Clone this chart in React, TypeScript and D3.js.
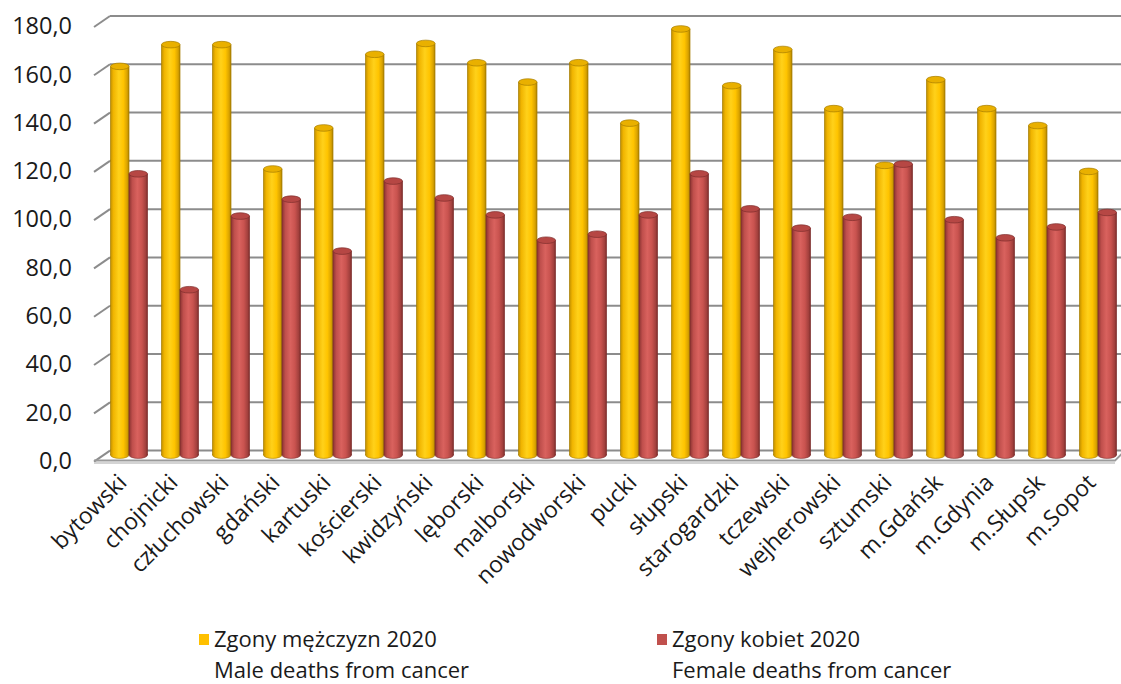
import React from "react";
import * as d3 from "d3";

const categories = [
  "bytowski", "chojnicki", "człuchowski", "gdański", "kartuski", "kościerski",
  "kwidzyński", "lęborski", "malborski", "nowodworski", "pucki", "słupski",
  "starogardzki", "tczewski", "wejherowski", "sztumski", "m.Gdańsk", "m.Gdynia",
  "m.Słupsk", "m.Sopot",
];
const maleDeaths = [161, 170, 170, 118.5, 135.5, 166, 170.5, 162.5, 154.5, 162.5, 137.5, 176.5, 153, 168, 143.5, 120, 155.5, 143.5, 136.5, 117.5];
const femaleDeaths = [116.5, 68.5, 99, 106, 84.5, 113.5, 106.5, 99.5, 89, 91.5, 99.5, 116.5, 102, 94, 98.5, 120.5, 97.5, 90, 94.5, 100.5];
const yTicks = [0, 20, 40, 60, 80, 100, 120, 140, 160, 180];
const legendItems = [
  { pl: "Zgony mężczyzn 2020", en: "Male deaths from cancer", key: "m" },
  { pl: "Zgony kobiet 2020", en: "Female deaths from cancer", key: "f" },
];

const W = 1121;
const H = 684;
const FONT = "'Open Sans', 'Noto Sans', sans-serif";

export default function App() {
  const backLeft = 110;
  const backRight = 1130;
  const y = d3.scaleLinear().domain([0, 180]).range([450.6, 16]);
  const x = d3.scaleBand<string>().domain(categories).range([103.5, 1123.5]);
  const barW = 18.5;
  const groupPad = (x.bandwidth() - 2 * barW) / 2;
  const dz = 4.5; // depth offset of bars relative to back wall
  const tickDx = -16;
  const tickDy = 11;
  const ry = 3.3;

  const cyl = (x0: number, v: number, kind: "m" | "f", key: string) => {
    const top = y(v) + dz;
    const bot = y(0) + dz;
    const cx = x0 + barW / 2;
    const rx = barW / 2;
    const grad = kind === "m" ? "url(#gY)" : "url(#gR)";
    const topFill = kind === "m" ? "#e9b000" : "#b64744";
    const edge = kind === "m" ? "#a67c00" : "#7e2e2c";
    return (
      <g key={key}>
        <ellipse cx={cx} cy={bot} rx={rx} ry={ry} fill={grad} stroke={edge} strokeWidth={0.6} />
        <rect x={x0} y={top} width={barW} height={bot - top} fill={grad} />
        <line x1={x0} x2={x0} y1={top} y2={bot} stroke={edge} strokeWidth={0.7} />
        <line x1={x0 + barW} x2={x0 + barW} y1={top} y2={bot} stroke={edge} strokeWidth={0.7} />
        <ellipse cx={cx} cy={top} rx={rx} ry={ry} fill={topFill} stroke={edge} strokeWidth={0.7} />
      </g>
    );
  };

  return (
    <svg
      width={W}
      height={H}
      style={{ position: "absolute", left: 0, top: 0, background: "#fff" }}
      fontFamily={FONT}
    >
      <defs>
        <linearGradient id="gY" x1="0" x2="1" y1="0" y2="0">
          <stop offset="0" stopColor="#c08f00" />
          <stop offset="0.15" stopColor="#f0b400" />
          <stop offset="0.45" stopColor="#ffd11a" />
          <stop offset="0.7" stopColor="#ffc400" />
          <stop offset="0.9" stopColor="#d9a200" />
          <stop offset="1" stopColor="#a88000" />
        </linearGradient>
        <linearGradient id="gR" x1="0" x2="1" y1="0" y2="0">
          <stop offset="0" stopColor="#8a3331" />
          <stop offset="0.18" stopColor="#bf4f4c" />
          <stop offset="0.45" stopColor="#d9625e" />
          <stop offset="0.7" stopColor="#c9534f" />
          <stop offset="0.9" stopColor="#a2403d" />
          <stop offset="1" stopColor="#7a2c2a" />
        </linearGradient>
      </defs>

      {/* back wall gridlines and left-wall ticks */}
      {yTicks.map((t) => (
        <g key={"g" + t}>
          <line x1={backLeft} x2={backRight} y1={y(t)} y2={y(t)} stroke="#8c8c8c" strokeWidth={2} />
          <line x1={backLeft} x2={backLeft + tickDx} y1={y(t)} y2={y(t) + tickDy} stroke="#8c8c8c" strokeWidth={2} />
          <text
            x={72}
            y={y(t) + tickDy + 1}
            textAnchor="end"
            dominantBaseline="middle"
            fontSize={23.5}
            fill="#1a1a1a"
          >
            {d3.format(".1f")(t).replace(".", ",")}
          </text>
        </g>
      ))}

      {/* floor front edge */}
      <polyline
        points={`${backLeft + tickDx},${y(0) + tickDy - 1} ${1115},${y(0) + tickDy - 1} ${1123},${y(0) + 2}`}
        fill="none"
        stroke="#9a9a9a"
        strokeWidth={2}
      />
      <line x1={backLeft + tickDx} x2={1115} y1={y(0) + tickDy + 1.5} y2={y(0) + tickDy + 1.5} stroke="#d4d4d4" strokeWidth={2} />

      {/* bars */}
      {categories.map((c, i) => {
        const x0 = (x(c) as number) + groupPad;
        return (
          <g key={c}>
            {cyl(x0, maleDeaths[i], "m", c + "m")}
            {cyl(x0 + barW, femaleDeaths[i], "f", c + "f")}
          </g>
        );
      })}

      {/* category labels */}
      {categories.map((c) => {
        const cx = (x(c) as number) + x.bandwidth() / 2;
        return (
          <text
            key={"l" + c}
            transform={`translate(${cx - 1},${484}) rotate(-45)`}
            textAnchor="end"
            fontSize={23}
            fill="#1a1a1a"
          >
            {c}
          </text>
        );
      })}

      {/* legend */}
      {legendItems.map((it, i) => {
        const lx = i === 0 ? 199 : 657;
        return (
          <g key={it.key}>
            <rect x={lx} y={634} width={10} height={11} fill={it.key === "m" ? "#FFC000" : "#C0504D"} />
            <text x={lx + 15} y={647} fontSize={22} fill="#1a1a1a">{it.pl}</text>
            <text x={lx + 15} y={678} fontSize={22} fill="#1a1a1a">{it.en}</text>
          </g>
        );
      })}
    </svg>
  );
}
